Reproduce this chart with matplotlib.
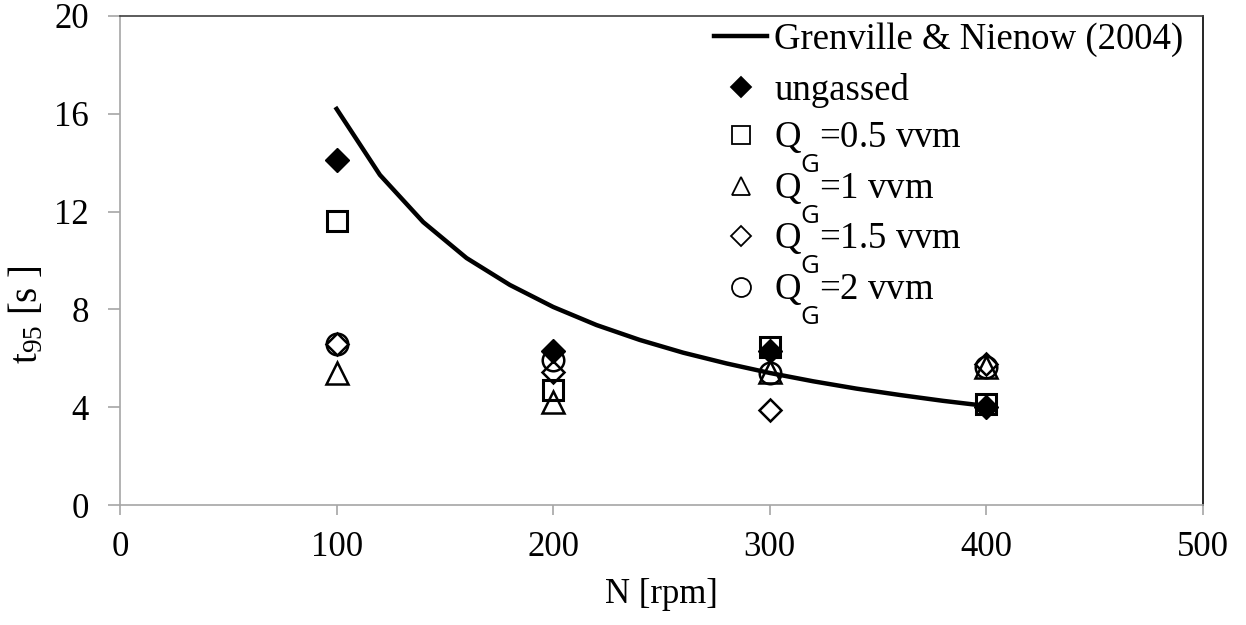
import matplotlib
matplotlib.use("Agg")
import matplotlib.pyplot as plt

plt.rcParams["font.family"] = ["Liberation Serif", "DejaVu Serif"]
plt.rcParams["mathtext.fontset"] = "custom"
plt.rcParams["mathtext.rm"] = "Liberation Serif"
plt.rcParams["mathtext.it"] = "Liberation Serif"
plt.rcParams["mathtext.sf"] = "Open Sans"

# Impeller speed [rpm]
speeds = [100, 200, 300, 400]

# Measured mixing times t95 [s]
t_ungassed = [14.1, 6.3, 6.3, 4.0]
t_qg_05 = [11.6, 4.7, 6.45, 4.15]
t_qg_1 = [5.4, 4.2, 5.45, 5.65]
t_qg_15 = [6.6, 5.45, 3.9, 5.75]
t_qg_2 = [6.6, 5.95, 5.4, 5.65]

# Correlation of Grenville & Nienow (2004)
corr_speed = [100, 120, 140, 160, 180, 200, 220, 240, 260, 280,
              300, 320, 340, 360, 380, 400]
corr_t95 = [16.2, 13.5, 11.57, 10.1, 9.0, 8.1, 7.36, 6.75, 6.23, 5.79,
            5.4, 5.06, 4.76, 4.5, 4.26, 4.05]

x_ticks = [0, 100, 200, 300, 400, 500]
y_ticks = [0, 4, 8, 12, 16, 20]

# gas-flow subscript hangs below the baseline
QG = r"Q$\underset{\mathsf{G}}{\,}$"

fig = plt.figure(figsize=(12.46, 6.25), dpi=100)
ax = fig.add_axes([120 / 1246, 1 - 505 / 625, 1083 / 1246, 489 / 625])

line, = ax.plot(corr_speed, corr_t95, color="black", lw=3.2, zorder=6,
                label="Grenville & Nienow (2004)")
h1, = ax.plot(speeds, t_qg_05, ls="none", marker="s", ms=15, mfc="none",
              mec="black", mew=2.2, zorder=3, label=QG + "=0.5 vvm")
h2, = ax.plot(speeds, t_qg_1, ls="none", marker="^", ms=15.5, mfc="none",
              mec="black", mew=1.8, zorder=3, label=QG + "=1 vvm")
h3, = ax.plot(speeds, t_qg_15, ls="none", marker="D", ms=11.5, mfc="none",
              mec="black", mew=1.8, zorder=3, label=QG + "=1.5 vvm")
h4, = ax.plot(speeds, t_qg_2, ls="none", marker="o", ms=15.5, mfc="none",
              mec="black", mew=1.8, zorder=3, label=QG + "=2 vvm")
h0, = ax.plot(speeds, t_ungassed, ls="none", marker="D", ms=12, mfc="black",
              mec="black", mew=1, zorder=5, label="ungassed")

ax.set_xlim(0, 500)
ax.set_ylim(0, 20)
ax.set_xticks(x_ticks)
ax.set_yticks(y_ticks)

gray = "#a6a6a6"
ax.spines["left"].set_color(gray)
ax.spines["bottom"].set_color(gray)
ax.spines["top"].set_color("#404040")
ax.spines["right"].set_color("black")
for s in ax.spines.values():
    s.set_linewidth(1.2)

ax.tick_params(axis="both", colors=gray, labelcolor="black", labelsize=25,
               width=1.2, direction="out")
ax.tick_params(axis="y", length=8.5, pad=14)
ax.tick_params(axis="x", length=7.5, pad=11)

ax.set_xlabel("N [rpm]", fontsize=25, labelpad=10)
ax.set_ylabel("t$_{95}$ [s ]", fontsize=28)
ax.yaxis.set_label_coords(-0.068, 0.39)

# legend in two stacks: plain labels on top, gas-flow labels below
leg_style = dict(loc="upper left", frameon=False, fontsize=26.5,
                 handlelength=1.44, handletextpad=0.19, markerscale=0.88,
                 borderaxespad=0.0, borderpad=0.2)
leg_top = ax.legend(handles=[line, h0], bbox_to_anchor=(0.542, 1.003),
                    labelspacing=0.44, **leg_style)
ax.add_artist(leg_top)
leg_gas = ax.legend(handles=[h1, h2, h3, h4], bbox_to_anchor=(0.542, 0.80),
                    labelspacing=-0.1, **leg_style)
for lg in (leg_top, leg_gas):
    for hd in lg.legend_handles:
        if hd.get_marker() not in (None, "None", "none", ""):
            hd.set_markeredgewidth(1.3)

fig.savefig("out.png", dpi=100)
